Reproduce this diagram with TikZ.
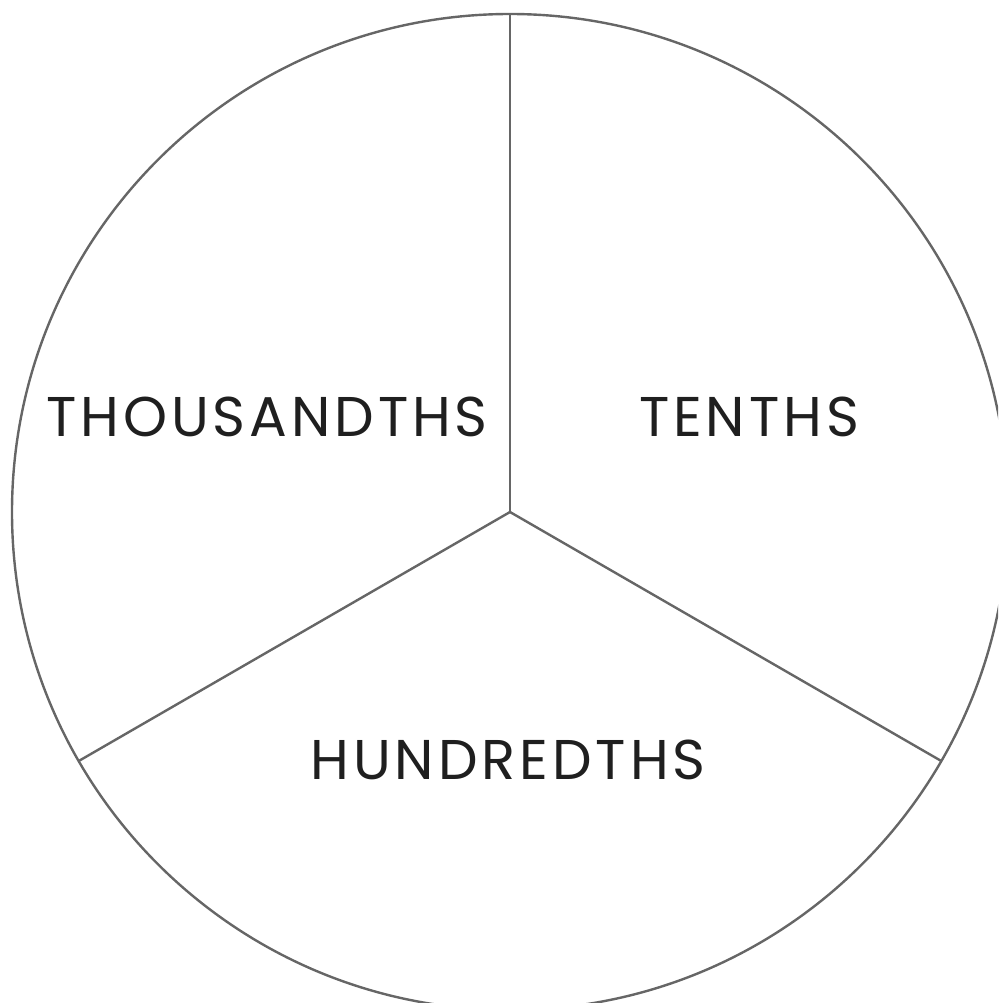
\documentclass[tikz,border=0pt]{standalone}
\usepackage{fontspec}
\setmainfont{Poppins}[LetterSpace=7]
\usetikzlibrary{calc}
\begin{document}
\begin{tikzpicture}[x=1pt,y=-1pt,
  divider/.style={draw=black!60, line width=2.4pt},
  label/.style={text=black!88, font=\fontsize{56}{60}\selectfont, inner sep=0pt, anchor=center}]
\useasboundingbox (0,0) rectangle (998,1003);
\clip (0,0) rectangle (998,1003);
\coordinate (c) at (510,512);
\draw[divider] (c) circle [radius=498];
\coordinate (top) at (510,14);
\coordinate (br) at ($(c)+(30:498)$);
\coordinate (bl) at ($(c)+(150:498)$);
\draw[divider] (c) -- (top);
\draw[divider] (c) -- (br);
\draw[divider] (c) -- (bl);
\node[label] (thou) at (267,417) {THOUSANDTHS};
\node[label] (tenths) at (749,417) {TENTHS};
\node[label] (hund) at (508,760) {HUNDREDTHS};
\end{tikzpicture}
\end{document}
